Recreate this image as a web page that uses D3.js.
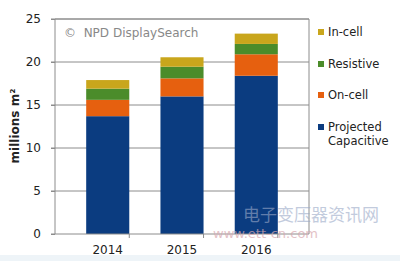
<!DOCTYPE html>
<html>
<head>
<meta charset="utf-8">
<script src="https://cdnjs.cloudflare.com/ajax/libs/d3/7.8.5/d3.min.js"></script>
<style>
  body { margin: 0; background: #fff; }
  svg { display: block; }
</style>
</head>
<body>
<div id="chart"></div>
<script>
// data
var years = ["2014", "2015", "2016"];
var seriesNames = ["Projected Capacitive", "On-cell", "Resistive", "In-cell"];
var projected = [13.7, 16.0, 18.4];
var onCell = [1.9, 2.1, 2.5];
var resistive = [1.3, 1.35, 1.2];
var inCell = [1.0, 1.1, 1.2];
var yTicks = [0, 5, 10, 15, 20, 25];
var colors = ["#0b3c80", "#e6600f", "#4b8c2a", "#c9a61c"];

var margin = { top: 19, right: 91, bottom: 27, left: 55 },
    width = 400 - margin.left - margin.right,
    height = 261 - margin.top - margin.bottom;

var svg = d3.select("#chart")
    .append("svg")
    .attr("width", 400)
    .attr("height", 261);

// faint band at the bottom of the picture
svg.append("rect")
    .attr("x", 0).attr("y", 255)
    .attr("width", 400).attr("height", 6)
    .style("fill", "#eef4f8");

var g = svg.append("g")
    .attr("transform", "translate(" + margin.left + "," + margin.top + ")");

var rows = years.map(function (y, i) {
    return { year: y, "Projected Capacitive": projected[i], "On-cell": onCell[i], "Resistive": resistive[i], "In-cell": inCell[i] };
});
var stacked = d3.stack().keys(seriesNames)(rows);

var x = d3.scaleBand().domain(years).range([0, width]).padding(0.42);
var y = d3.scaleLinear().domain([0, 25]).range([height, 0]);

// gridlines
g.selectAll(".grid")
    .data(yTicks.slice(1))
    .enter().append("line")
    .attr("x1", -4).attr("x2", width)
    .attr("y1", function (d) { return y(d); })
    .attr("y2", function (d) { return y(d); })
    .style("stroke", "#8c8c8c")
    .style("stroke-width", 1);

// bars
g.selectAll(".layer")
    .data(stacked)
    .enter().append("g")
    .style("fill", function (d, i) { return colors[i]; })
    .selectAll("rect")
    .data(function (d) { return d; })
    .enter().append("rect")
    .attr("x", function (d) { return x(d.data.year); })
    .attr("y", function (d) { return y(d[1]); })
    .attr("height", function (d) { return y(d[0]) - y(d[1]); })
    .attr("width", x.bandwidth());

// plot frame
g.append("path")
    .attr("d", "M0," + height + "V0H" + width + "V" + height)
    .style("fill", "none")
    .style("stroke", "#8c8c8c");

// y axis
var yAxis = g.append("g")
    .call(d3.axisLeft(y).tickValues(yTicks).tickSize(4).tickPadding(10));
yAxis.select(".domain").remove();
yAxis.selectAll("line").style("stroke", "#8c8c8c");
yAxis.selectAll("text")
    .style("font-family", "DejaVu Sans, Verdana, sans-serif")
    .style("font-size", "12px")
    .style("fill", "#222");

// x axis
g.append("line")
    .attr("x1", -4).attr("x2", width)
    .attr("y1", height).attr("y2", height)
    .style("stroke", "#8c8c8c");
var step = x.step();
g.selectAll(".xtick")
    .data(d3.range(1, years.length + 1))
    .enter().append("line")
    .attr("x1", function (d) { return d * step; })
    .attr("x2", function (d) { return d * step; })
    .attr("y1", height).attr("y2", height + 4)
    .style("stroke", "#8c8c8c");
g.selectAll(".xlabel")
    .data(years)
    .enter().append("text")
    .attr("x", function (d) { return x(d) + x.bandwidth() / 2; })
    .attr("y", height + 20)
    .style("text-anchor", "middle")
    .style("font-family", "DejaVu Sans, Verdana, sans-serif")
    .style("font-size", "12px")
    .style("fill", "#222")
    .text(function (d) { return d; });

// y label
svg.append("text")
    .attr("transform", "translate(19,126) rotate(-90)")
    .style("text-anchor", "middle")
    .style("font-family", "DejaVu Sans, Verdana, sans-serif")
    .style("font-size", "12px")
    .style("font-weight", "bold")
    .style("fill", "#222")
    .text("millions m²");

// copyright note
g.append("text")
    .attr("x", 9).attr("y", 18)
    .style("font-family", "DejaVu Sans, Verdana, sans-serif")
    .style("font-size", "12px")
    .style("white-space", "pre")
    .style("fill", "#888")
    .text("©  NPD DisplaySearch");

// legend
var legendItems = [
    { name: "In-cell", color: colors[3], y: 32, lines: ["In-cell"] },
    { name: "Resistive", color: colors[2], y: 64, lines: ["Resistive"] },
    { name: "On-cell", color: colors[1], y: 95, lines: ["On-cell"] },
    { name: "Projected Capacitive", color: colors[0], y: 127, lines: ["Projected", "Capacitive"] }
];
var legend = svg.selectAll(".legend")
    .data(legendItems)
    .enter().append("g")
    .attr("transform", function (d) { return "translate(318," + d.y + ")"; });
legend.append("rect")
    .attr("x", 0).attr("y", -3)
    .attr("width", 6).attr("height", 6)
    .style("fill", function (d) { return d.color; });
legend.each(function (d) {
    var t = d3.select(this).append("text")
        .style("font-family", "DejaVu Sans, Verdana, sans-serif")
        .style("font-size", "11.5px")
        .style("fill", "#222");
    d.lines.forEach(function (line, i) {
        t.append("tspan")
            .attr("x", 10)
            .attr("y", 4 + i * 14)
            .text(line);
    });
});

// watermark
svg.append("text")
    .attr("x", 243).attr("y", 221)
    .style("font-family", "Noto Sans CJK SC, sans-serif")
    .style("font-size", "17px")
    .style("fill", "#9aa9c8")
    .style("opacity", 0.6)
    .text("电子变压器资讯网");
svg.append("text")
    .attr("x", 213).attr("y", 238)
    .style("font-family", "DejaVu Sans, sans-serif")
    .style("font-size", "13px")
    .style("fill", "#d8a8b0")
    .style("opacity", 0.7)
    .text("www.ett-cn.com");
</script>
</body>
</html>
